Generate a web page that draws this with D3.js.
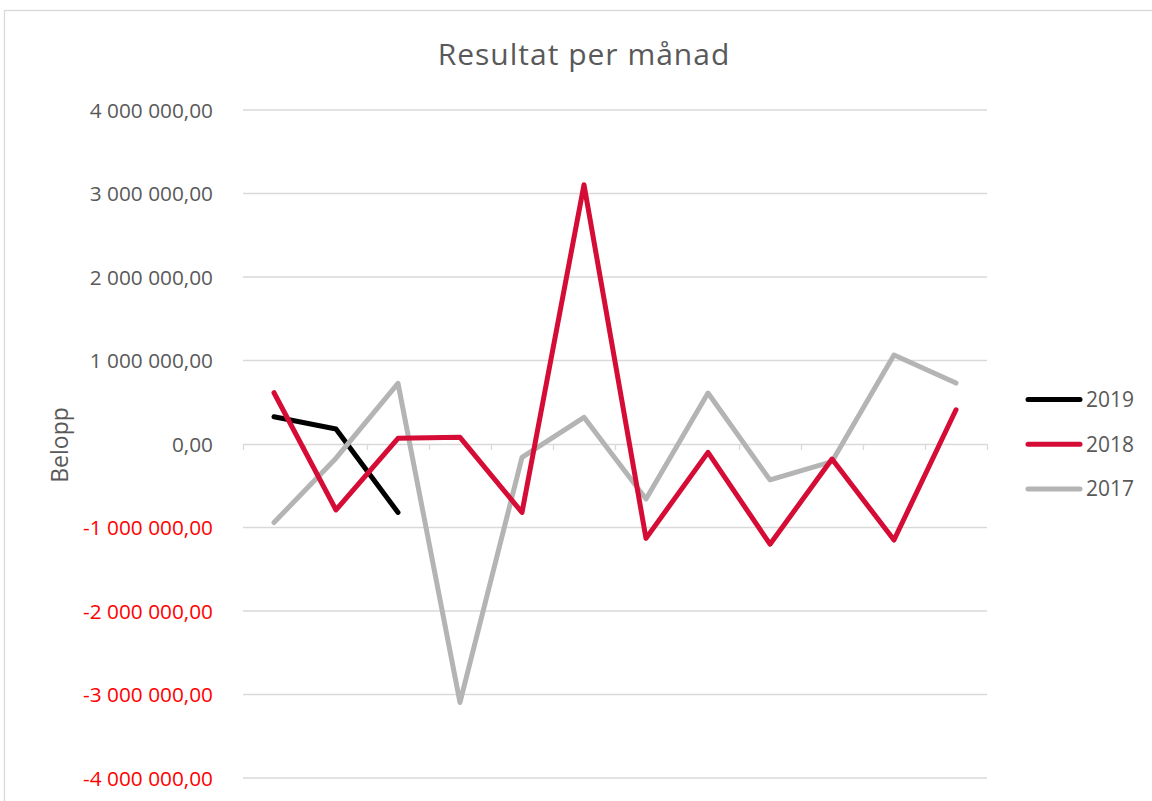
<!DOCTYPE html>
<html>
<head>
<meta charset="utf-8">
<script src="https://cdn.jsdelivr.net/npm/d3@7/dist/d3.min.js"></script>
<style>
  html, body { margin: 0; padding: 0; background: #fff; }
  svg { display: block; }
  text { font-family: "Open Sans", "DejaVu Sans", sans-serif; }
</style>
</head>
<body>
<svg id="chart" width="1152" height="801"></svg>
<script>
const months = ["jan", "feb", "mar", "apr", "maj", "jun", "jul", "aug", "sep", "okt", "nov", "dec"];
const yTicks = [4000000, 3000000, 2000000, 1000000, 0, -1000000, -2000000, -3000000, -4000000];
const series2019 = [327000, 180000, -820000];
const series2018 = [614000, -790000, 68000, 80000, -820000, 3105000, -1130000, -100000, -1200000, -180000, -1150000, 410000];
const series2017 = [-940000, -170000, 727000, -3095000, -160000, 320000, -660000, 610000, -430000, -210000, 1066000, 730000];
const seriesNames = ["2019", "2018", "2017"];
const seriesColors = ["#000000", "#d50c35", "#b4b4b4"];

(function () {
const svg = d3.select("#chart");
const W = 1152, H = 801;
const pLeft = 243, pRight = 987, pTop = 110, pBottom = 778;

// chart frame
svg.append("rect")
  .attr("x", 4.5).attr("y", 10.5)
  .attr("width", W + 10).attr("height", H + 10)
  .attr("fill", "#fff").attr("stroke", "#d9d9d9").attr("stroke-width", 1.3);

const x = d3.scaleLinear().domain([0, months.length]).range([pLeft, pRight]);
const y = d3.scaleLinear().domain([-4000000, 4000000]).range([pBottom, pTop]);

const locale = d3.formatLocale({ decimal: ",", thousands: "\u00a0", grouping: [3], currency: ["", " kr"], minus: "-" });
const fmt = locale.format(",.2f");

// gridlines
svg.append("g").selectAll("line").data(yTicks.filter(v => v !== 0)).join("line")
  .attr("x1", pLeft).attr("x2", pRight)
  .attr("y1", d => y(d)).attr("y2", d => y(d))
  .attr("stroke", "#d9d9d9").attr("stroke-width", 1.3);

// y axis labels
const yAxis = d3.axisLeft(y).tickValues(yTicks).tickSize(0).tickPadding(0).tickFormat(fmt);
const gy = svg.append("g").attr("transform", `translate(${pLeft - 30},0)`).call(yAxis);
gy.select(".domain").remove();
gy.selectAll("text")
  .attr("font-size", 20.8)
  .attr("font-family", "'Open Sans', sans-serif")
  .attr("fill", d => d < 0 ? "#ff0000" : "#595959")
  .attr("dy", "0.34em");

// x axis at zero with ticks between categories
const xAxis = d3.axisBottom(x).tickValues(d3.range(months.length + 1)).tickSize(6).tickSizeOuter(0).tickFormat("");
const gx = svg.append("g").attr("transform", `translate(0,${y(0)})`).call(xAxis);
gx.select(".domain").attr("stroke", "#d9d9d9").attr("stroke-width", 1.3);
gx.selectAll(".tick line").attr("stroke", "#d9d9d9").attr("stroke-width", 1.3);

// y axis title
svg.append("text")
  .attr("transform", `translate(68,445) rotate(-90)`)
  .attr("text-anchor", "middle")
  .attr("font-size", 23)
  .attr("fill", "#595959")
  .text("Belopp");

// title
svg.append("text")
  .attr("x", 584).attr("y", 65)
  .attr("text-anchor", "middle")
  .attr("font-size", 30)
  .attr("letter-spacing", 1)
  .attr("fill", "#595959")
  .text("Resultat per månad");

const line = d3.line().x((d, i) => x(i + 0.5)).y(d => y(d));
const allSeries = [series2019, series2018, series2017];
const drawOrder = [0, 2, 1];
drawOrder.forEach(k => {
  svg.append("path")
    .datum(allSeries[k])
    .attr("d", line)
    .attr("fill", "none")
    .attr("stroke", seriesColors[k])
    .attr("stroke-width", 5)
    .attr("stroke-linejoin", "round")
    .attr("stroke-linecap", "round");
});

// legend
const lg = svg.append("g");
seriesNames.forEach((name, i) => {
  const ly = 399.5 + i * 44.7;
  lg.append("line")
    .attr("x1", 1028).attr("x2", 1080)
    .attr("y1", ly).attr("y2", ly)
    .attr("stroke", seriesColors[i]).attr("stroke-width", 5)
    .attr("stroke-linecap", "round");
  lg.append("text")
    .attr("x", 1086).attr("y", ly)
    .attr("dy", "0.36em")
    .attr("font-size", 21)
    .attr("fill", "#595959")
    .text(name);
});
})();
</script>
</body>
</html>
